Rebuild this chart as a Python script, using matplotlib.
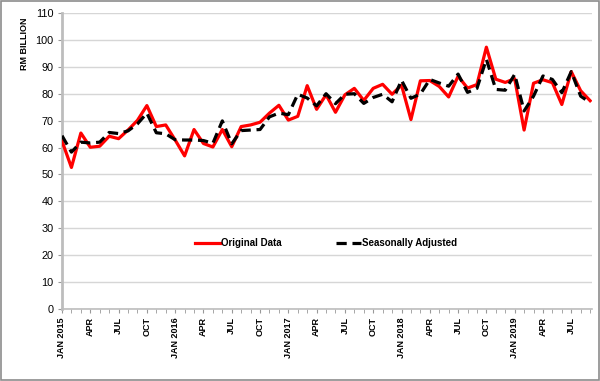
import matplotlib
matplotlib.use("Agg")
import matplotlib.pyplot as plt
from matplotlib.patches import Rectangle
from matplotlib.ticker import FixedLocator

plt.rcParams['font.family'] = ['Liberation Sans', 'DejaVu Sans']

original = [62.4, 52.6, 65.4, 60.1, 60.5, 64.2, 63.3, 66.5, 70.1, 75.6, 67.8, 68.4,
            62.8, 56.9, 66.7, 61.5, 60.2, 66.7, 60.3, 67.8, 68.4, 69.4, 72.8, 75.7,
            70.2, 71.6, 83.0, 74.2, 79.6, 73.1, 79.6, 82.0, 77.5, 82.0, 83.5, 79.8,
            83.2, 70.4, 84.8, 84.9, 82.7, 78.8, 86.5, 82.1, 83.4, 97.3, 85.4, 84.2,
            85.6, 66.5, 83.9, 85.2, 84.1, 76.0, 88.2, 81.1, 77.4]
seasonal = [64.4, 58.3, 62.0, 61.7, 62.0, 65.6, 65.2, 66.2, 68.8, 72.8, 65.5, 65.1,
            62.9, 62.8, 62.8, 62.6, 61.6, 69.9, 61.4, 66.3, 66.5, 66.7, 71.4, 72.8,
            72.2, 79.8, 78.4, 75.5, 80.0, 76.3, 79.8, 80.0, 76.4, 78.6, 79.8, 77.0,
            85.0, 78.3, 79.9, 85.3, 84.0, 82.8, 87.3, 80.5, 82.0, 92.8, 81.6, 81.3,
            87.2, 73.6, 79.1, 86.6, 85.3, 80.4, 88.2, 79.1, 76.7]
tick_labels = ["JAN 2015", "APR", "JUL", "OCT", "JAN 2016", "APR", "JUL", "OCT",
               "JAN 2017", "APR", "JUL", "OCT", "JAN 2018", "APR", "JUL", "OCT",
               "JAN 2019", "APR", "JUL"]
y_ticks = [0, 10, 20, 30, 40, 50, 60, 70, 80, 90, 100, 110]

x = list(range(len(original)))

fig = plt.figure(figsize=(6.0, 3.81), dpi=100)
fig.patches.append(Rectangle((0.0015, 0.002), 0.997, 0.996, transform=fig.transFigure,
                             fill=False, edgecolor='#8c8c8c', linewidth=1.2))
ax = fig.add_axes([62/600, 1-309/381, 530/600, 296/381])

ax.set_ylim(0, 110)
ax.set_xlim(0, 56.2)
ax.set_yticks(y_ticks)
ax.yaxis.grid(True, color='#d6d6d6', linewidth=1.0)
ax.set_axisbelow(True)

ax.plot(x, original, color='#ff0000', linewidth=2.3, label='Original Data', zorder=3)
ax.plot(x, seasonal, color='black', linewidth=2.3, linestyle=(0, (3.2, 1.8)),
        label='Seasonally Adjusted', zorder=4)

ax.xaxis.set_major_locator(FixedLocator([3*i for i in range(len(tick_labels))]))
ax.set_xticklabels(tick_labels, rotation=90, fontsize=6.5, fontweight='bold', va='top')
ax.xaxis.set_minor_locator(FixedLocator(x + [57]))
ax.tick_params(axis='x', which='both', length=3, color='#999999', pad=3)
ax.tick_params(axis='y', length=3, color='#999999', labelsize=7.8, pad=3)

for s in ['top', 'right']:
    ax.spines[s].set_visible(False)
ax.spines['left'].set_color('#bdbdbd')
ax.spines['left'].set_linewidth(2.0)
ax.spines['bottom'].set_color('#bdbdbd')
ax.spines['bottom'].set_linewidth(1.2)

ax.set_ylabel('RM BILLION', fontsize=6.5, fontweight='bold')
ax.yaxis.set_label_coords((29-62)/530, (309-44)/296)

leg = ax.legend(loc='center', bbox_to_anchor=(326/600, 1-243/381), bbox_transform=fig.transFigure,
                ncol=2, frameon=False, prop={'weight': 'bold', 'size': 7},
                handlelength=2.6, handletextpad=0.1, columnspacing=5.5)

fig.savefig('out.png', dpi=100)
